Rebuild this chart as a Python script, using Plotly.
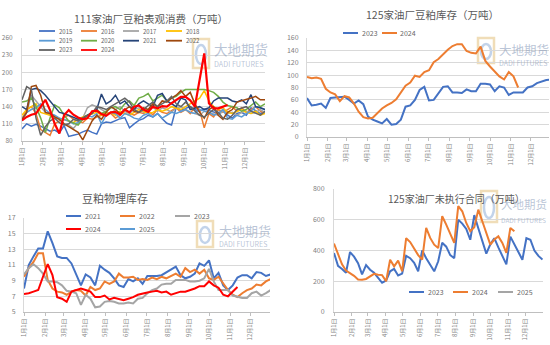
import plotly.graph_objects as go

W, H = 550, 345
def fx(x): return x / W
def fy(y): return 1 - y / H

MONTH_DAYS = [0, 31, 59, 90, 120, 151, 181, 212, 243, 273, 304, 334]
MONTH_LABELS = [f"{m}月1日" for m in range(1, 13)]

# ---------- Chart 1: 111家油厂豆粕表观消费（万吨） weekly ----------
c1_years = ["2015", "2016", "2017", "2018", "2019", "2020", "2021", "2022", "2023", "2024"]
c1_2015 = [101,110,106,109,106,102,97,99,94,107,88,90,92,96,99,95,92,110,113,112,116,119,121,103,110,116,
           119,125,122,128,119,111,108,139,134,137,140,135,132,136,133,130,128,135,125,120,128,130,125,138,133,128,132]
c1_2016 = [118,135,140,128,100,95,90,110,115,122,125,118,115,112,120,118,122,125,130,128,120,125,132,128,125,130,
           128,132,126,135,130,128,133,138,130,135,128,140,135,103,128,122,135,130,135,140,132,138,130,135,140,132,128]
c1_2017 = [120,130,160,150,140,130,125,120,118,110,108,102,112,120,138,143,140,135,130,128,135,140,132,128,135,138,
           130,135,140,132,138,135,130,138,140,135,130,128,125,132,130,128,125,132,128,130,125,130,132,128,130,135,130]
c1_2018 = [125,135,140,145,130,128,125,122,120,118,115,112,118,122,125,128,130,125,128,130,125,132,128,125,130,135,
           132,128,130,135,132,135,140,138,135,140,145,150,155,168,150,140,135,138,130,128,132,135,130,128,132,125,128]
c1_2019 = [115,130,135,138,145,135,128,125,120,118,115,110,112,118,125,122,128,110,125,130,128,120,128,125,120,118,
           125,128,122,128,120,125,130,128,132,135,130,128,135,132,130,125,128,135,120,118,125,122,128,132,140,138,135]
c1_2020 = [148,150,155,140,120,95,120,143,138,125,115,112,108,118,125,130,135,128,132,138,140,135,145,150,142,155,
           158,163,150,155,160,150,155,158,165,170,170,170,170,170,168,165,158,148,142,140,138,132,135,142,148,140,145]
c1_2021 = [140,135,170,172,168,160,150,140,130,128,125,122,118,120,125,130,135,162,145,150,160,145,150,140,135,145,
           150,145,140,160,163,150,145,140,155,152,135,138,140,135,138,150,155,155,155,150,148,152,145,161,140,138,135]
c1_2022 = [118,130,175,177,160,130,128,122,118,110,105,100,95,82,100,115,125,118,130,140,135,128,135,140,132,130,
           138,135,145,140,150,148,155,160,168,158,165,145,130,120,135,140,125,118,130,135,148,150,152,155,158,152,152]
c1_2023 = [152,175,170,120,90,105,115,120,112,108,110,118,115,120,125,128,140,138,135,140,145,150,155,148,135,130,
           135,142,148,140,145,150,158,145,140,148,140,132,125,122,128,135,130,120,118,125,135,138,140,132,128,125,132]
c1_2024 = [116,122,126,128,140,152,134,110,93,125,134,126,121,118,120,132,133,127,124,130,131,126,135,130,140,142,
           135,131,140,137,141,140,146,152,157,157,151,140,185,233,146,137,137,140,143]
c1_series = [c1_2015, c1_2016, c1_2017, c1_2018, c1_2019, c1_2020, c1_2021, c1_2022, c1_2023, c1_2024]
c1_colors = ["#4472C4", "#ED7D31", "#A5A5A5", "#FFC000", "#5B9BD5", "#70AD47", "#264478", "#9E480E", "#636363", "#FF0000"]

# ---------- Chart 2: 125家油厂豆粕库存（万吨） ----------
c2_years = ["2023", "2024"]
c2_2023 = [63,51,52,54,47,63,64,64,65,60,54,59,53,33,28,25,22,29,20,21,28,49,51,60,76,81,59,60,71,81,82,72,72,71,77,74,
           74,86,86,85,74,82,80,68,72,72,72,80,82,87,90,92,93]
c2_2024 = [97,95,96,94,78,72,69,58,66,64,54,41,32,30,31,38,46,51,55,61,72,83,88,99,97,105,108,121,126,134,141,147,150,
           150,139,136,135,146,123,114,106,98,93,105,98,80]
c2_series = [c2_2023, c2_2024]
c2_colors = ["#4472C4", "#ED7D31"]

# ---------- Chart 3: 豆粕物理库存 ----------
c3_years = ["2021", "2022", "2023", "2024", "2025"]
c3_2021 = [8.0,11.0,12.1,13.1,13.1,15.3,13.8,12.1,11.9,11.9,11.2,9.7,8.4,9.8,9.4,8.4,10.9,10.4,10.0,9.3,8.4,8.2,9.2,8.9,
           9.3,8.6,9.6,9.6,9.6,9.7,10.1,10.4,10.8,9.7,9.3,9.5,9.9,11.2,10.9,11.6,9.3,10.0,8.4,7.8,8.4,9.4,9.7,9.7,9.3,
           10.1,10.0,9.6,9.8]
c3_2022 = [9.5,10.6,11.4,12.5,12.5,9.1,8.0,7.6,7.5,7.2,7.6,7.8,7.7,7.1,8.2,7.8,8.0,8.9,8.6,8.9,9.9,9.4,9.4,9.5,9.1,9.2,
           9.1,9.4,9.2,9.5,9.3,9.6,9.9,9.5,10.6,10.1,10.4,9.9,10.4,9.3,9.1,9.5,8.6,7.8,7.2,6.9,7.4,7.8,8.0,8.5,8.4,8.9,9.2]
c3_2023 = [9.8,10.6,11.1,10.6,9.9,8.9,8.9,8.8,8.4,7.7,7.6,7.4,5.9,7.2,6.7,5.6,5.7,6.3,6.4,6.3,6.1,6.1,6.2,6.1,6.7,6.8,
           7.4,7.8,8.0,8.5,8.6,8.6,9.1,9.1,9.1,8.9,8.9,9.0,9.3,10.5,8.9,7.8,7.8,7.8,7.1,6.9,6.8,6.8,7.4,7.6,7.1,7.4,7.8]
c3_2024 = [7.3,7.4,7.6,7.8,9.5,11.1,9.7,6.9,6.7,6.3,7.6,7.8,8.0,7.8,7.6,6.9,6.9,7.1,6.6,6.8,6.6,6.5,6.7,6.9,7.2,7.4,
           7.5,7.6,7.7,7.5,7.6,7.2,7.4,7.6,7.6,7.8,8.0,8.3,8.3,8.9,8.4,8.1,7.2,7.0,7.6,8.2]
c3_2025 = []
c3_series = [c3_2021, c3_2022, c3_2023, c3_2024, c3_2025]
c3_colors = ["#4472C4", "#ED7D31", "#A5A5A5", "#FF0000", "#5B9BD5"]

# ---------- Chart 4: 125家油厂未执行合同（万吨） ----------
c4_years = ["2023", "2024", "2025"]
c4_2023 = [384,300,280,255,390,360,318,245,305,275,255,225,190,205,265,280,238,250,365,350,320,265,400,350,305,265,
           330,450,425,370,350,600,575,540,470,630,545,455,380,440,480,420,365,310,490,435,390,340,480,470,400,365,341]
c4_2024 = [445,375,310,270,255,235,212,210,215,232,248,242,240,200,340,297,334,265,480,455,410,370,341,547,482,438,
           416,623,568,503,449,688,655,579,525,551,666,590,514,438,471,492,449,384,547,525]
c4_2025 = []
c4_series = [c4_2023, c4_2024, c4_2025]
c4_colors = ["#4472C4", "#ED7D31", "#A5A5A5"]

FONT = "Noto Sans CJK SC"
GRID = "#D9D9D9"
TICKC = "#7F7F7F"
TITLEC = "#595959"
WM = "rgba(140,158,188,0.6)"

fig = go.Figure()

def add_lines(series, colors, names, ax, width):
    xa = "x" if ax == 1 else f"x{ax}"
    ya = "y" if ax == 1 else f"y{ax}"
    for vals, col, name in zip(series, colors, names):
        fig.add_trace(go.Scatter(
            x=[7 * i for i in range(len(vals))], y=vals, mode="lines", name=name,
            line=dict(color=col, width=width), xaxis=xa, yaxis=ya, showlegend=False,
            hoverinfo="skip"))

add_lines(c1_series, c1_colors, c1_years, 1, 1.5)
fig.data[-1].line.width = 2.2
add_lines(c2_series, c2_colors, c2_years, 2, 2)
add_lines(c3_series, c3_colors, c3_years, 3, 2)
add_lines(c4_series, c4_colors, c4_years, 4, 2)

def xaxis(l, r, rng, anchor, size=6):
    return dict(domain=[fx(l), fx(r)], range=rng, anchor=anchor, tickmode="array",
                tickvals=MONTH_DAYS, ticktext=MONTH_LABELS, tickangle=-90,
                tickfont=dict(size=size, color=TICKC, family=FONT), showgrid=False,
                showline=True, linecolor="#BFBFBF", linewidth=1, ticks="outside", ticklen=3,
                tickcolor="#BFBFBF", zeroline=False, automargin=False, fixedrange=True)

def yaxis(t, b, rng, dtick, anchor, size=7, standoff=6):
    return dict(domain=[fy(b), fy(t)], range=rng, tickmode="linear", tick0=rng[0], dtick=dtick,
                anchor=anchor,
                tickfont=dict(size=size, color=TICKC, family=FONT), showgrid=True,
                gridcolor=GRID, gridwidth=1, showline=True, linecolor=GRID, linewidth=1,
                ticks="", zeroline=False, automargin=False, fixedrange=True,
                ticklabelstandoff=standoff)

fig.update_layout(
    width=W, height=H, margin=dict(l=0, r=0, t=0, b=0),
    paper_bgcolor="white", plot_bgcolor="white", showlegend=False,
    font=dict(family=FONT, color=TITLEC),
    xaxis=xaxis(22, 265, [0, 364], "y"),
    yaxis=yaxis(38, 141, [80, 260], 30, "x", size=6.5, standoff=7),
    xaxis2=xaxis(307, 549, [0, 361], "y2"),
    yaxis2=yaxis(38, 137, [0, 160], 20, "x2", size=7, standoff=6),
    xaxis3=xaxis(24, 270, [0, 363], "y3"),
    yaxis3=yaxis(218, 312, [5, 17], 2, "x3", size=7, standoff=6),
    xaxis4=xaxis(334, 543, [0, 365], "y4"),
    yaxis4=yaxis(189, 312, [0, 800], 200, "x4", size=7, standoff=7),
)

ann = []
shapes = []

# watermarks (drawn first so titles stay on top)
def watermark(ix, iy_top, iy_bot, tx, ty1, ty2, big, small):
    shapes.append(dict(type="rect", xref="paper", yref="paper", x0=fx(ix), x1=fx(ix + 16),
                       y0=fy(iy_bot), y1=fy(iy_top), line=dict(color="#F0DDB8", width=2.5),
                       fillcolor="rgba(0,0,0,0)", layer="below"))
    shapes.append(dict(type="circle", xref="paper", yref="paper", x0=fx(ix + 3), x1=fx(ix + 13),
                       y0=fy(iy_bot - 4), y1=fy(iy_top + 6), line=dict(color="#C2D3EA", width=2.5),
                       layer="below"))
    ann.append(dict(text="大地期货", x=fx(tx), y=fy(ty1), xref="paper", yref="paper", xanchor="left",
                    yanchor="middle", showarrow=False,
                    font=dict(size=big, color=WM, family=FONT)))
    ann.append(dict(text="DADI FUTURES", x=fx(tx), y=fy(ty2), xref="paper", yref="paper", xanchor="left",
                    yanchor="middle", showarrow=False,
                    font=dict(size=small, color=WM, family=FONT)))

watermark(193, 39, 68, 212, 48.5, 64, 13.5, 7.2)
watermark(478, 38, 63, 497, 49.5, 63, 12.5, 7)
watermark(197, 221, 247, 217, 230.5, 244, 13, 7)
watermark(481, 191, 222, 499, 204, 219.5, 11.5, 6.5)

# titles
def title(text, x, y, size):
    ann.append(dict(text=text, x=fx(x), y=fy(y), xref="paper", yref="paper", xanchor="center",
                    yanchor="middle", showarrow=False, font=dict(size=size, color=TITLEC, family=FONT)))

title("111家油厂豆粕表观消费（万吨）", 151, 19, 10.5)
title("125家油厂豆粕库存（万吨）", 432, 14, 10.5)
title("豆粕物理库存", 115, 198, 11)
title("125家油厂未执行合同（万吨）", 456, 198, 10)

# legends
def legend_item(name, color, x0, x1, y, size, width=2):
    shapes.append(dict(type="line", xref="paper", yref="paper", x0=fx(x0), x1=fx(x1), y0=fy(y), y1=fy(y),
                       line=dict(color=color, width=width)))
    ann.append(dict(text=name, x=fx(x1 + 1.5), y=fy(y), xref="paper", yref="paper", xanchor="left",
                    yanchor="middle", showarrow=False, font=dict(size=size, color="#666666", family=FONT)))

cols1 = [39, 81, 123, 166]
rows1 = [31, 40.7, 50]
for k, (name, col) in enumerate(zip(c1_years, c1_colors)):
    x0 = cols1[k % 4]
    legend_item(name, col, x0, x0 + 16, rows1[k // 4], 6, 1.8)

for name, col, x0 in zip(c2_years, c2_colors, [343, 382]):
    legend_item(name, col, x0, x0 + 15, 33, 7)

pos3 = [(66, 216), (120, 216), (175, 216), (66, 229), (120, 229)]
for name, col, (x0, y) in zip(c3_years, c3_colors, pos3):
    legend_item(name, col, x0, x0 + 15, y, 7)

for name, col, x0 in zip(c4_years, c4_colors, [409, 453, 498]):
    legend_item(name, col, x0, x0 + 15, 292, 7)

fig.update_layout(annotations=ann, shapes=shapes)
fig.write_html("out.html")
